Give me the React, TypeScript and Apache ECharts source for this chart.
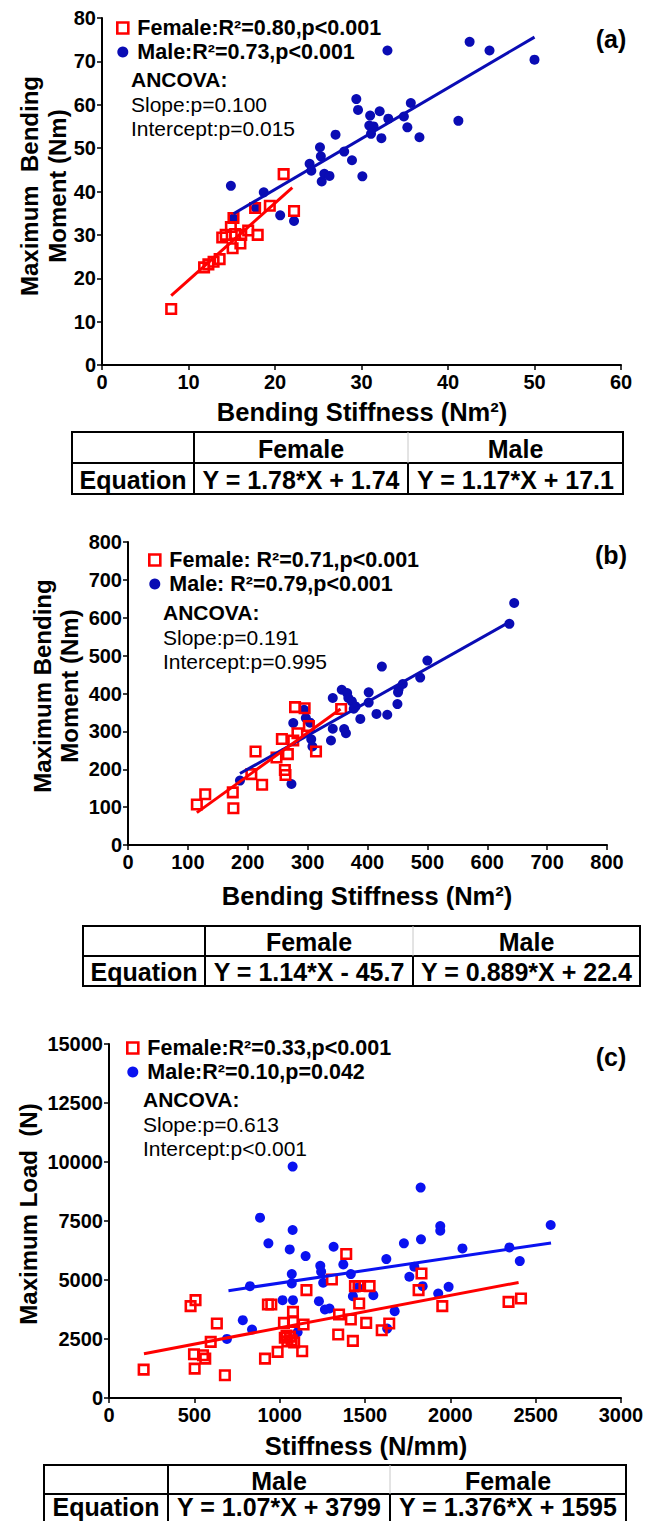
import React, { useEffect, useRef } from "react";
import * as echarts from "echarts";

// ---------- Data ----------
// Panel (a): Bending Stiffness (Nm²) vs Maximum Bending Moment (Nm)
const femaleA: number[][] = [
  [8.0, 12.9], [11.8, 22.5], [12.3, 23.2], [12.9, 23.8], [13.6, 24.4], [13.9, 29.4],
  [14.3, 30.0], [14.9, 31.8], [15.2, 33.9], [15.1, 26.9], [15.4, 30.2], [16.0, 28.0],
  [16.1, 30.0], [16.9, 31.0], [17.7, 36.2], [18.0, 30.0], [19.4, 36.7], [21.0, 44.0],
  [22.2, 35.5],
];
const maleA: number[][] = [
  [14.9, 41.3], [15.2, 33.8], [17.8, 36.2], [18.7, 39.8], [20.6, 34.5], [22.2, 33.2],
  [24.0, 46.4], [24.2, 44.8], [25.2, 50.2], [25.3, 48.1], [25.4, 42.3], [25.7, 44.1],
  [26.3, 43.6], [27.0, 53.1], [28.0, 49.2], [28.9, 47.2], [29.4, 61.3], [29.6, 58.8],
  [30.1, 43.5], [31.0, 57.5], [30.9, 55.2], [31.4, 55.0], [31.1, 53.3], [32.1, 58.5],
  [32.3, 52.3], [33.0, 72.5], [33.1, 56.8], [34.9, 57.3], [35.3, 54.8], [35.7, 60.4],
  [36.7, 52.5], [41.2, 56.3], [42.5, 74.5], [44.8, 72.5], [50.0, 70.4],
];
const femaleFitA = [1.78, 1.74];
const femaleRangeA = [8, 22];
const maleFitA = [1.17, 17.1];
const maleRangeA = [15.2, 50];

// Panel (b)
const femaleB: number[][] = [
  [115, 107], [129, 134], [175, 139], [176, 97], [206, 187], [213, 247], [224, 159],
  [248, 231], [257, 280], [262, 198], [263, 185], [267, 240], [276, 276], [279, 364],
  [283, 295], [295, 361], [302, 314], [314, 247], [356, 359],
];
const maleB: number[][] = [
  [187, 170], [273, 161], [276, 322], [294, 357], [297, 335], [304, 323], [306, 279],
  [308, 260], [339, 276], [342, 307], [342, 388], [357, 410], [366, 401], [368, 388],
  [374, 379], [380, 366], [377, 360], [361, 306], [364, 295], [388, 333], [402, 403],
  [402, 376], [415, 346], [424, 471], [433, 344], [450, 372], [451, 403], [452, 411],
  [459, 425], [488, 442], [500, 487], [637, 584], [645, 639],
];
const femaleFitB = [1.14, -45.7];
const femaleRangeB = [115, 355];
const maleFitB = [0.889, 22.4];
const maleRangeB = [187, 637];

// Panel (c)
const femaleC: number[][] = [
  [203, 1203], [478, 3891], [507, 4146], [498, 1854], [502, 1245], [551, 1811],
  [564, 1670], [596, 2377], [632, 3155], [679, 962], [914, 1670], [931, 3962],
  [951, 3962], [988, 1953], [1025, 3184], [1030, 2550], [1045, 2400], [1060, 2600],
  [1070, 2450], [1085, 2350], [1040, 2650], [1078, 3650], [1078, 3226], [1132, 1981],
  [1140, 3113], [1157, 4570], [1306, 5023], [1343, 2689], [1348, 3538], [1390, 6099],
  [1417, 3325], [1429, 2420], [1441, 4740], [1462, 4746], [1466, 4005], [1507, 3184],
  [1527, 4740], [1598, 2873], [1642, 3155], [1814, 4570], [1831, 5278], [1953, 3891],
  [2341, 4075], [2414, 4217],
];
const maleC: number[][] = [
  [691, 2505], [784, 3297], [826, 4740], [838, 2901], [885, 7641], [934, 6552],
  [1017, 4146], [1059, 6297], [1071, 5250], [1071, 4854], [1076, 9806], [1076, 7118],
  [1078, 4146], [1105, 2788], [1152, 6014], [1230, 4104], [1238, 5604], [1243, 5349],
  [1255, 4882], [1265, 3750], [1292, 3792], [1316, 6410], [1373, 5660], [1417, 5250],
  [1429, 4316], [1458, 4684], [1549, 4358], [1625, 5887], [1630, 2943], [1674, 3679],
  [1728, 6552], [1760, 5137], [1789, 5561], [1826, 8915], [1828, 6722], [1838, 4740],
  [1929, 4429], [1941, 7288], [1941, 7090], [1990, 4712], [2071, 6340], [2346, 6382],
  [2407, 5802], [2588, 7330],
];
const femaleFitC = [1.376, 1595];
const femaleRangeC = [205, 2400];
const maleFitC = [1.07, 3799];
const maleRangeC = [700, 2590];

// Axis ranges [min, max, interval]
const xAxisA = [0, 60, 10];
const yAxisA = [0, 80, 10];
const xAxisB = [0, 800, 100];
const yAxisB = [0, 800, 100];
const xAxisC = [0, 3000, 500];
const yAxisC = [0, 15000, 2500];

// Texts
const legendA = ["Female:R²=0.80,p<0.001", "Male:R²=0.73,p<0.001"];
const legendB = ["Female: R²=0.71,p<0.001", "Male: R²=0.79,p<0.001"];
const legendC = ["Female:R²=0.33,p<0.001", "Male:R²=0.10,p=0.042"];
const ancovaA = ["ANCOVA:", "Slope:p=0.100", "Intercept:p=0.015"];
const ancovaB = ["ANCOVA:", "Slope:p=0.191", "Intercept:p=0.995"];
const ancovaC = ["ANCOVA:", "Slope:p=0.613", "Intercept:p<0.001"];
const tableA = ["Female", "Male", "Equation", "Y = 1.78*X + 1.74", "Y = 1.17*X + 17.1"];
const tableB = ["Female", "Male", "Equation", "Y = 1.14*X - 45.7", "Y = 0.889*X + 22.4"];
const tableC = ["Male", "Female", "Equation", "Y = 1.07*X + 3799", "Y = 1.376*X + 1595"];

const FONT = "'Liberation Sans', Arial, Helvetica, sans-serif";
const RED = "#ff0000";
const BLUE_AB = "#0a0cb4";
const BLUE_C = "#0a12f0";

const fitLine = (fit: number[], range: number[]) =>
  range.map((x) => [x, fit[0] * x + fit[1]]);

type Layout = {
  left: number; top: number; width: number; height: number;
};

export default function App() {
  const ref = useRef<HTMLDivElement>(null);

  useEffect(() => {
    if (!ref.current) return;
    const chart = echarts.init(ref.current, undefined, { renderer: "svg" });

    const grids: Layout[] = [
      { left: 102, top: 18, width: 519, height: 347 },
      { left: 128, top: 542, width: 479, height: 303 },
      { left: 109, top: 1044, width: 512, height: 354 },
    ];

    const axisBase = (idx: number, r: number[], isX: boolean) => ({
      type: "value",
      gridIndex: idx,
      min: r[0],
      max: r[1],
      interval: r[2],
      axisLine: { show: true, onZero: false, lineStyle: { color: "#000", width: 2 } },
      axisTick: { show: true, inside: false, length: 5, lineStyle: { color: "#000", width: 1.5 } },
      axisLabel: {
        color: "#000",
        fontSize: 20,
        fontWeight: "bold",
        fontFamily: FONT,
        margin: isX ? 7 : 6,
        formatter: (v: number) => String(v),
      },
      splitLine: { show: false },
    });

    const scatterPair = (idx: number, male: number[][], female: number[][], names: string[], blue: string) => [
      {
        type: "scatter",
        name: names[1],
        xAxisIndex: idx,
        yAxisIndex: idx,
        data: male,
        symbol: "circle",
        symbolSize: 10,
        itemStyle: { color: blue, opacity: 1 },
        z: 2,
      },
      {
        type: "scatter",
        name: names[0],
        xAxisIndex: idx,
        yAxisIndex: idx,
        data: female,
        symbol: "rect",
        symbolSize: 9.5,
        itemStyle: { color: "rgba(255,255,255,0)", borderColor: RED, borderWidth: 2.6, opacity: 1 },
        z: 3,
      },
    ];

    const fitSeries = (idx: number, name: string, fit: number[], range: number[], color: string) => ({
      type: "line",
      name,
      xAxisIndex: idx,
      yAxisIndex: idx,
      data: fitLine(fit, range),
      symbol: "none",
      showSymbol: false,
      silent: true,
      lineStyle: { color, width: 3 },
      z: 4,
    });

    const legendCfg = (left: number, top: number, names: string[], blue: string) => ({
      left,
      top,
      orient: "vertical",
      itemGap: 2,
      itemWidth: 11,
      itemHeight: 11,
      selectedMode: false,
      data: [
        { name: names[0], icon: "rect", itemStyle: { color: "rgba(255,255,255,0)", borderColor: RED, borderWidth: 2.6, opacity: 1 } },
        { name: names[1], icon: "circle", itemStyle: { color: blue, opacity: 1 } },
      ],
      textStyle: {
        fontSize: 21.5,
        fontWeight: "bold",
        fontFamily: FONT,
        color: "#000",
        lineHeight: 22,
        padding: [0, 0, 0, 4],
      },
    });

    const text = (x: number, y: number, s: string, size: number, bold: boolean, align = "left", rotation = 0) => ({
      type: "text",
      x,
      y,
      rotation,
      silent: true,
      style: {
        text: s,
        fontSize: size,
        fontWeight: bold ? "bold" : "normal",
        fontFamily: FONT,
        fill: "#000",
        align,
        verticalAlign: "middle",
      },
    });

    const ancova = (x: number, y0: number, lines: string[]) => [
      text(x, y0, lines[0], 21, true),
      text(x, y0 + 25, lines[1], 21, false),
      text(x, y0 + 49, lines[2], 21, false),
    ];

    const table = (
      l: number, r: number, t: number, b: number, mid: number, c1: number, c2: number,
      cells: string[], row2Y?: number
    ) => {
      const y1 = (t + mid) / 2 + 1;
      const y2 = row2Y ?? (mid + b) / 2 + 1;
      return [
        { type: "rect", silent: true, shape: { x: l, y: t, width: r - l, height: b - t }, style: { fill: "none", stroke: "#000", lineWidth: 2 } },
        { type: "line", silent: true, shape: { x1: l, y1: mid, x2: r, y2: mid }, style: { stroke: "#000", lineWidth: 2 } },
        { type: "line", silent: true, shape: { x1: c1, y1: t, x2: c1, y2: b }, style: { stroke: "#000", lineWidth: 2 } },
        { type: "line", silent: true, shape: { x1: c2, y1: t, x2: c2, y2: mid }, style: { stroke: "#c8c8c8", lineWidth: 1 } },
        { type: "line", silent: true, shape: { x1: c2, y1: mid, x2: c2, y2: b }, style: { stroke: "#000", lineWidth: 2 } },
        text((c1 + c2) / 2, y1, cells[0], 25, true, "center"),
        text((c2 + r) / 2, y1, cells[1], 25, true, "center"),
        text((l + c1) / 2, y2, cells[2], 25, true, "center"),
        text((c1 + c2) / 2, y2, cells[3], 25, true, "center"),
        text((c2 + r) / 2, y2, cells[4], 25, true, "center"),
      ];
    };

    const ROT = Math.PI / 2;

    const option: any = {
      animation: false,
      backgroundColor: "#fff",
      grid: grids.map((g) => ({ ...g, containLabel: false })),
      xAxis: [axisBase(0, xAxisA, true), axisBase(1, xAxisB, true), axisBase(2, xAxisC, true)],
      yAxis: [axisBase(0, yAxisA, false), axisBase(1, yAxisB, false), axisBase(2, yAxisC, false)],
      legend: [
        legendCfg(111, 12, legendA, BLUE_AB),
        legendCfg(143, 544, legendB, BLUE_AB),
        legendCfg(121, 1032, legendC, BLUE_C),
      ],
      series: [
        ...scatterPair(0, maleA, femaleA, legendA, BLUE_AB),
        fitSeries(0, "Male fit (a)", maleFitA, maleRangeA, BLUE_AB),
        fitSeries(0, "Female fit (a)", femaleFitA, femaleRangeA, RED),
        ...scatterPair(1, maleB, femaleB, legendB, BLUE_AB),
        fitSeries(1, "Male fit (b)", maleFitB, maleRangeB, BLUE_AB),
        fitSeries(1, "Female fit (b)", femaleFitB, femaleRangeB, RED),
        ...scatterPair(2, maleC, femaleC, legendC, BLUE_C),
        fitSeries(2, "Male fit (c)", maleFitC, maleRangeC, BLUE_C),
        fitSeries(2, "Female fit (c)", femaleFitC, femaleRangeC, RED),
      ],
      graphic: [
        // panel (a)
        text(611, 39, "(a)", 25, true, "center"),
        ...ancova(131, 79, ancovaA),
        text(362, 412, "Bending Stiffness (Nm²)", 25.5, true, "center"),
        text(29, 186, "Maximum  Bending", 24, true, "center", ROT),
        text(57, 186, "Moment (Nm)", 24, true, "center", ROT),
        ...table(72, 623, 432, 494, 463, 194, 408, tableA),
        // panel (b)
        text(611, 555, "(b)", 25, true, "center"),
        ...ancova(163, 612, ancovaB),
        text(367, 896, "Bending Stiffness (Nm²)", 25.5, true, "center"),
        text(42, 686, "Maximum Bending", 24, true, "center", ROT),
        text(69, 686, "Moment (Nm)", 24, true, "center", ROT),
        ...table(83, 640, 926, 986, 956, 205, 413, tableB),
        // panel (c)
        text(611, 1057, "(c)", 25, true, "center"),
        ...ancova(143, 1099, ancovaC),
        text(366, 1446, "Stiffness (N/mm)", 25.5, true, "center"),
        text(28, 1214, "Maximum Load  (N)", 24, true, "center", ROT),
        ...table(44, 626, 1465, 1530, 1494, 168, 390, tableC, 1507),
      ],
    };

    chart.setOption(option);
    return () => chart.dispose();
  }, []);

  return (
    <div
      ref={ref}
      style={{ position: "absolute", left: 0, top: 0, width: 649, height: 1521, background: "#fff" }}
    />
  );
}
